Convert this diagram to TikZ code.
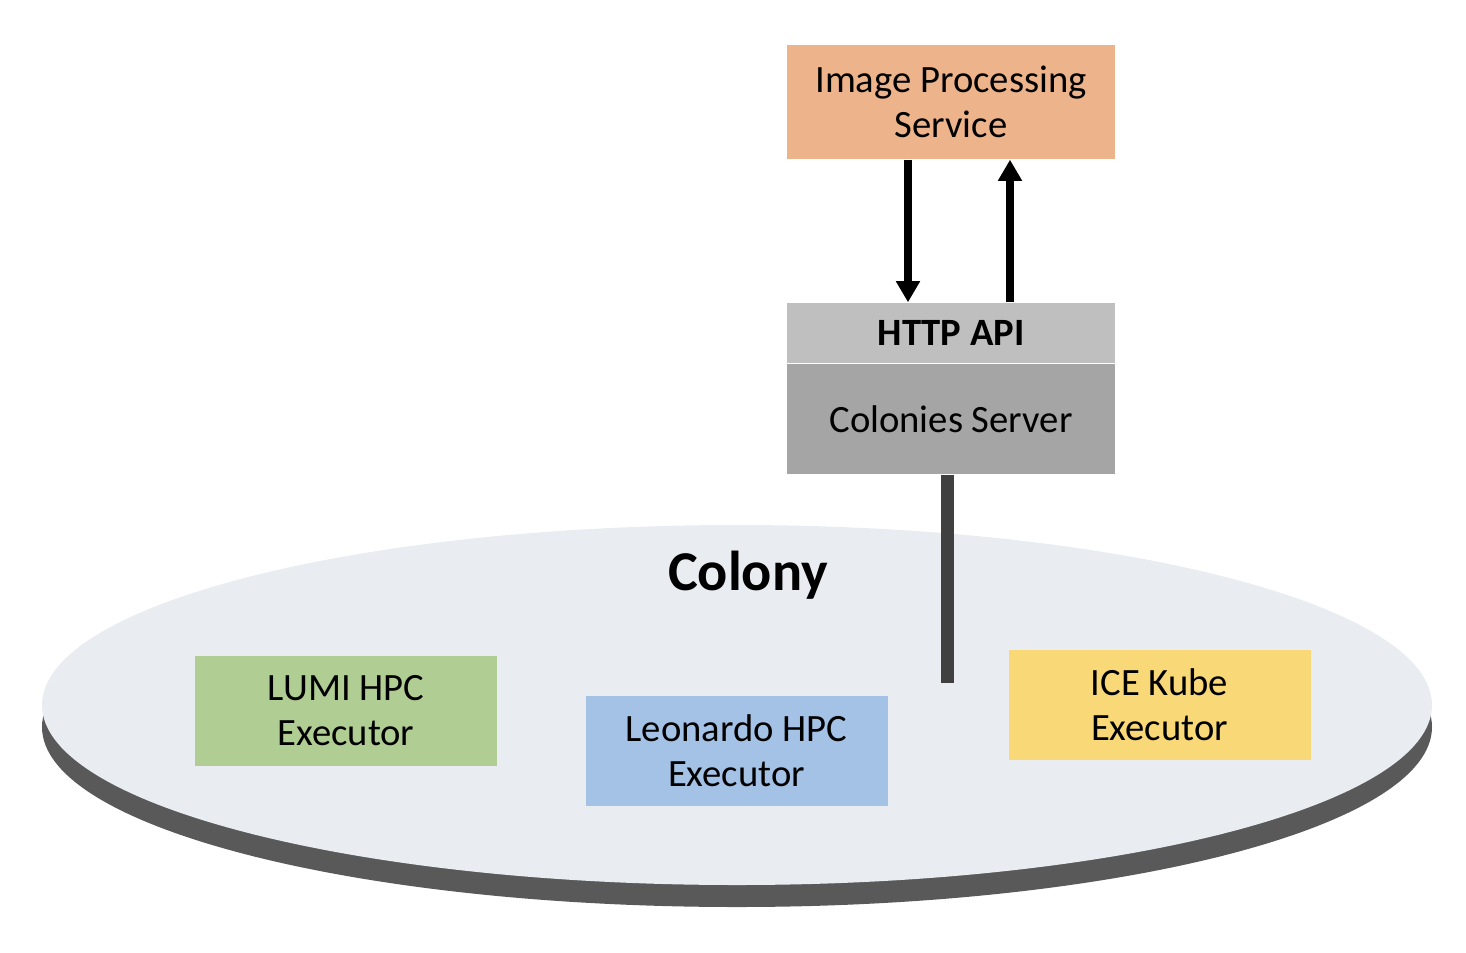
\documentclass[tikz,border=0pt]{standalone}
\usepackage{fontspec}
\setmainfont{Carlito}
\usetikzlibrary{arrows.meta,positioning}
\definecolor{ipscol}{HTML}{EDB38A}
\definecolor{apicol}{HTML}{BFBFBF}
\definecolor{servercol}{HTML}{A5A5A5}
\definecolor{lumicol}{HTML}{B0CD93}
\definecolor{leocol}{HTML}{A4C2E5}
\definecolor{icecol}{HTML}{F8D877}
\definecolor{diskcol}{HTML}{E9EDF2}
\definecolor{rimcol}{HTML}{595959}
\definecolor{barcol}{HTML}{404040}

\begin{document}
\begin{tikzpicture}[
  box/.style={inner sep=0pt,align=center,minimum width=3.28cm,font=\fontsize{11}{12.8}\selectfont},
  exec/.style={box,minimum width=3.02cm,minimum height=1.10cm},
  flow/.style={line width=2pt,-{Triangle[length=6pt,width=6.5pt]}}
]
  \useasboundingbox (0,0) rectangle (14.66,-9.52);
  \fill[rimcol] (7.37,-7.27) ellipse [x radius=6.95,y radius=1.80];
  \fill[diskcol] (7.37,-7.05) ellipse [x radius=6.95,y radius=1.80];
  \node[box,fill=ipscol,minimum height=1.14cm] (ips) at (9.51,-1.02) {Image Processing\\Service};
  \node[box,fill=apicol,minimum height=0.60cm,font=\fontsize{11}{12.8}\selectfont\bfseries] (api) at (9.51,-3.33) {HTTP API};
  \node[box,fill=servercol,minimum height=1.10cm,below=0pt of api] (server) {Colonies Server};
  \node[font=\fontsize{16}{19}\selectfont\bfseries] (colony) at (7.48,-5.75) {Colony};
  \node[exec,fill=lumicol] (lumi) at (3.46,-7.105) {LUMI HPC\\Executor};
  \node[exec,fill=leocol] (leo) at (7.365,-7.505) {Leonardo HPC\\Executor};
  \node[exec,fill=icecol] (ice) at (11.595,-7.05) {ICE Kube\\Executor};
  \coordinate (barend) at (9.475,-6.83);
  \draw[flow] ([xshift=-0.43cm]ips.south) -- ([xshift=-0.43cm]api.north);
  \draw[flow] ([xshift=0.59cm]api.north) -- ([xshift=0.59cm]ips.south);
  \draw[barcol,line width=3.7pt] (server.south -| barend) -- (barend);
\end{tikzpicture}
\end{document}
